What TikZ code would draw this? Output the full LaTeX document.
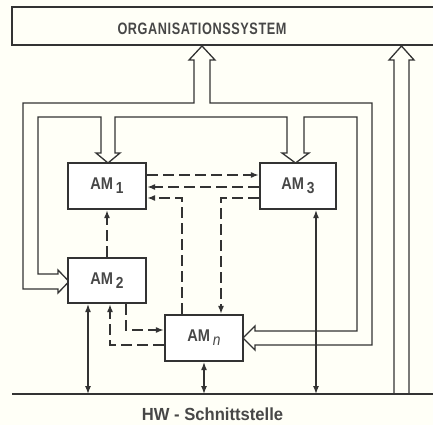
\documentclass[tikz,border=0pt]{standalone}
\usepackage{fontspec}
\setmainfont{Liberation Sans}
\newfontfamily\condf[FakeStretch=0.77,LetterSpace=3.5]{Liberation Sans}
\newfontfamily\amf[FakeStretch=0.86]{Liberation Sans}
\newfontfamily\hwf[FakeStretch=0.95]{Liberation Sans}
\usetikzlibrary{arrows.meta,calc}
\definecolor{ink}{HTML}{333333}
\tikzset{
  ambox/.style={draw=ink, line width=2.2pt, fill=white, minimum width=78pt, minimum height=46pt, inner sep=0pt, font=\amf\bfseries\fontsize{17}{17}\selectfont, text=ink!90},
  pipe/.style={draw=ink, line width=1.3pt, line join=miter},
  dashline/.style={draw=ink, line width=1.4pt, dash pattern=on 11pt off 5pt},
  arrowend/.style={-{Latex[length=8pt,width=6pt]}},
  bothends/.style={{Latex[length=8pt,width=6pt]}-{Latex[length=8pt,width=6pt]}},
  solidline/.style={draw=ink, line width=1.3pt},
}
\newcommand{\amsub}[1]{\,\raisebox{-4pt}{\fontsize{16}{16}\selectfont #1}}
\begin{document}
\begin{tikzpicture}[x=1pt,y=-1pt]
\useasboundingbox (0,0) rectangle (433,425);
\clip (0,0) rectangle (433,425);
\fill[white!97!yellow] (0,0) rectangle (433,425);
% Organisationssystem box
\draw[ink, line width=2.2pt] (12,7) rectangle (445,45);
\node[font=\condf\bfseries\fontsize{16.5}{16}\selectfont, text=ink!90] (org) at (202,28.5) {ORGANISATIONSSYSTEM};
% HW line
\coordinate (hwL) at (12,394);
\coordinate (hwR) at (440,394);
\draw[ink, line width=1.6pt] (hwL) -- (hwR);
\node[font=\hwf\bfseries\fontsize{17.5}{17}\selectfont, text=ink!90] (hw) at (212.5,414) {HW - Schnittstelle};
% hollow pipe
\draw[pipe] (69,281.5) -- (58,293) -- (58,289) -- (23,289) -- (23,103) -- (194,103) -- (194,60) -- (189,60) -- (202,46) -- (215,60) -- (210,60) -- (210,103) -- (372,103) -- (372,345) -- (255,345) -- (255,350) -- (243,338) -- (255,326) -- (255,331) -- (357,331) -- (357,117) -- (304,117) -- (304,153) -- (309,153) -- (295.5,163) -- (282,153) -- (287,153) -- (287,117) -- (115,117) -- (115,153) -- (120,153) -- (108,163) -- (96,153) -- (101,153) -- (101,117) -- (38,117) -- (38,274) -- (58,274) -- (58,270) -- cycle;
% right hollow arrow
\draw[pipe] (394,394) -- (394,60) -- (389,60) -- (401.5,46) -- (414,60) -- (409,60) -- (409,394);
% boxes
\node[ambox] (am1) at (107,186) {AM\amsub{1}};
\node[ambox, minimum width=76pt] (am3) at (298,186) {AM\amsub{3}};
\node[ambox, minimum height=45pt] (am2) at (107,280.5) {AM\amsub{2}};
\node[ambox] (amn) at (204,338) {AM\amsub{\mdseries\itshape n}};
% dashed connectors
\draw[dashline, arrowend] ([yshift=11pt]am1.east) -- ([yshift=11pt]am3.west);
\draw[dashline, arrowend] ([yshift=-1pt]am3.west) -- ([yshift=-1pt]am1.east);
\draw[dashline, arrowend] ([xshift=-22pt]amn.north) |- ([yshift=-12pt]am1.east);
\draw[dashline, arrowend] ([yshift=-12pt]am3.west) -| ([xshift=17pt]amn.north);
\draw[dashline, arrowend] (am2.north) -- (am1.south);
\draw[dashline, arrowend] ([xshift=19pt]am2.south) |- ([yshift=8pt]amn.west);
\draw[dashline, arrowend] ([yshift=-7pt]amn.west) -| ([xshift=3pt]am2.south);
% solid bidirectional connectors
\draw[solidline, bothends] ([xshift=-19pt]am2.south) -- ([xshift=-19pt]am2.south |- hwL);
\draw[solidline, bothends] (amn.south) -- (amn.south |- hwL);
\draw[solidline, bothends] ([xshift=18pt]am3.south) -- ([xshift=18pt]am3.south |- hwL);
\end{tikzpicture}
\end{document}
